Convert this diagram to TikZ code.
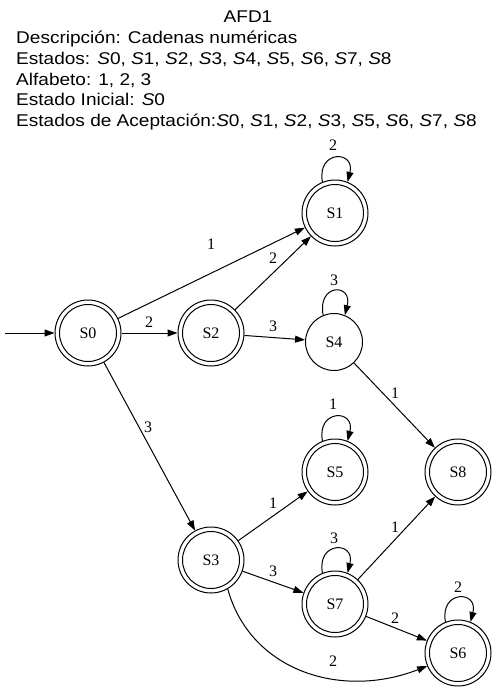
\documentclass[tikz,border=0pt]{standalone}
\usepackage{fontspec}
\setmainfont{Liberation Serif}
\newfontfamily\hdrfont{Liberation Sans}[FakeStretch=1.12]
\usetikzlibrary{arrows.meta}
\begin{document}
\begin{tikzpicture}[x=1pt,y=-1pt,
  every node/.style={inner sep=0pt},
  st/.style={circle,draw,line width=1pt,minimum size=57pt,font=\fontsize{16}{19}\selectfont},
  acc/.style={st,minimum size=66pt,path picture={\draw[line width=1pt] (path picture bounding box.center) circle[radius=28.5pt];}},
  arr/.style={line width=1pt,-{Triangle[length=10pt,width=7pt]}},
  lbl/.style={font=\fontsize{16}{19}\selectfont},
  hdr/.style={font=\hdrfont\fontsize{17}{20}\selectfont, anchor=base west},
  loopy/.style={arr},
]
\fill[white] (0,0) rectangle (497,693);
\useasboundingbox (0,0) rectangle (497,693);

% header
\node[hdr,anchor=base] (title) at (248,22.5) {AFD1};
\node[hdr] (h1) at (16,44) {Descripción: Cadenas numéricas};
\node[hdr] (h2) at (16,64.5) {Estados: {\itshape S}0, {\itshape S}1, {\itshape S}2, {\itshape S}3, {\itshape S}4, {\itshape S}5, {\itshape S}6, {\itshape S}7, {\itshape S}8};
\node[hdr] (h3) at (16,85) {Alfabeto: 1, 2, 3};
\node[hdr] (h4) at (16,105.5) {Estado Inicial: {\itshape S}0};
\node[hdr] (h5) at (16,126) {Estados de Aceptación:{\itshape S}0, {\itshape S}1, {\itshape S}2, {\itshape S}3, {\itshape S}5, {\itshape S}6, {\itshape S}7, {\itshape S}8};

% states
\node[acc] (S0) at (88,333) {S0};
\node[acc] (S2) at (211,333) {S2};
\node[acc] (S1) at (335,213) {S1};
\node[st]  (S4) at (334,342) {S4};
\node[acc] (S3) at (211,560) {S3};
\node[acc] (S5) at (335,472) {S5};
\node[acc] (S8) at (458,472) {S8};
\node[acc] (S7) at (335,604) {S7};
\node[acc] (S6) at (458,653) {S6};
\coordinate (init) at (5,333);

% edges
\draw[arr] (init) -- (S0);
\draw[arr] (S0) -- (S1) node[lbl] at (211,244) {1};
\draw[arr] (S2) -- (S1) node[lbl] at (273,258) {2};
\draw[arr] (S0) -- (S2) node[lbl] at (149,322) {2};
\draw[arr] (S2) -- (S4) node[lbl] at (273,326) {3};
\draw[arr] (S4) -- (S8) node[lbl] at (395,393) {1};
\draw[arr] (S0) -- (S3) node[lbl] at (148,427) {3};
\draw[arr] (S3) -- (S5) node[lbl] at (273,503) {1};
\draw[arr] (S3) -- (S7) node[lbl] at (273,571) {3};
\draw[arr] (S7) -- (S8) node[lbl] at (395,527) {1};
\draw[arr] (S7) -- (S6) node[lbl] at (395,618) {2};
\draw[arr] (S3.-60) .. controls (250,670) and (340,700) .. (S6.-157) node[lbl] at (333,661) {2};

% self loops
\draw[loopy] (S1.112) .. controls +(-6,-32) and +(8,-32) .. (S1.68) node[lbl] at (333,145) {2};
\draw[loopy] (S4.112) .. controls +(-6,-32) and +(8,-32) .. (S4.68) node[lbl] at (334,280) {3};
\draw[loopy] (S5.112) .. controls +(-6,-32) and +(8,-32) .. (S5.68) node[lbl] at (333,404) {1};
\draw[loopy] (S7.112) .. controls +(-6,-32) and +(8,-32) .. (S7.68) node[lbl] at (334,538) {3};
\draw[loopy] (S6.112) .. controls +(-6,-32) and +(8,-32) .. (S6.68) node[lbl] at (458,587) {2};
\end{tikzpicture}
\end{document}
